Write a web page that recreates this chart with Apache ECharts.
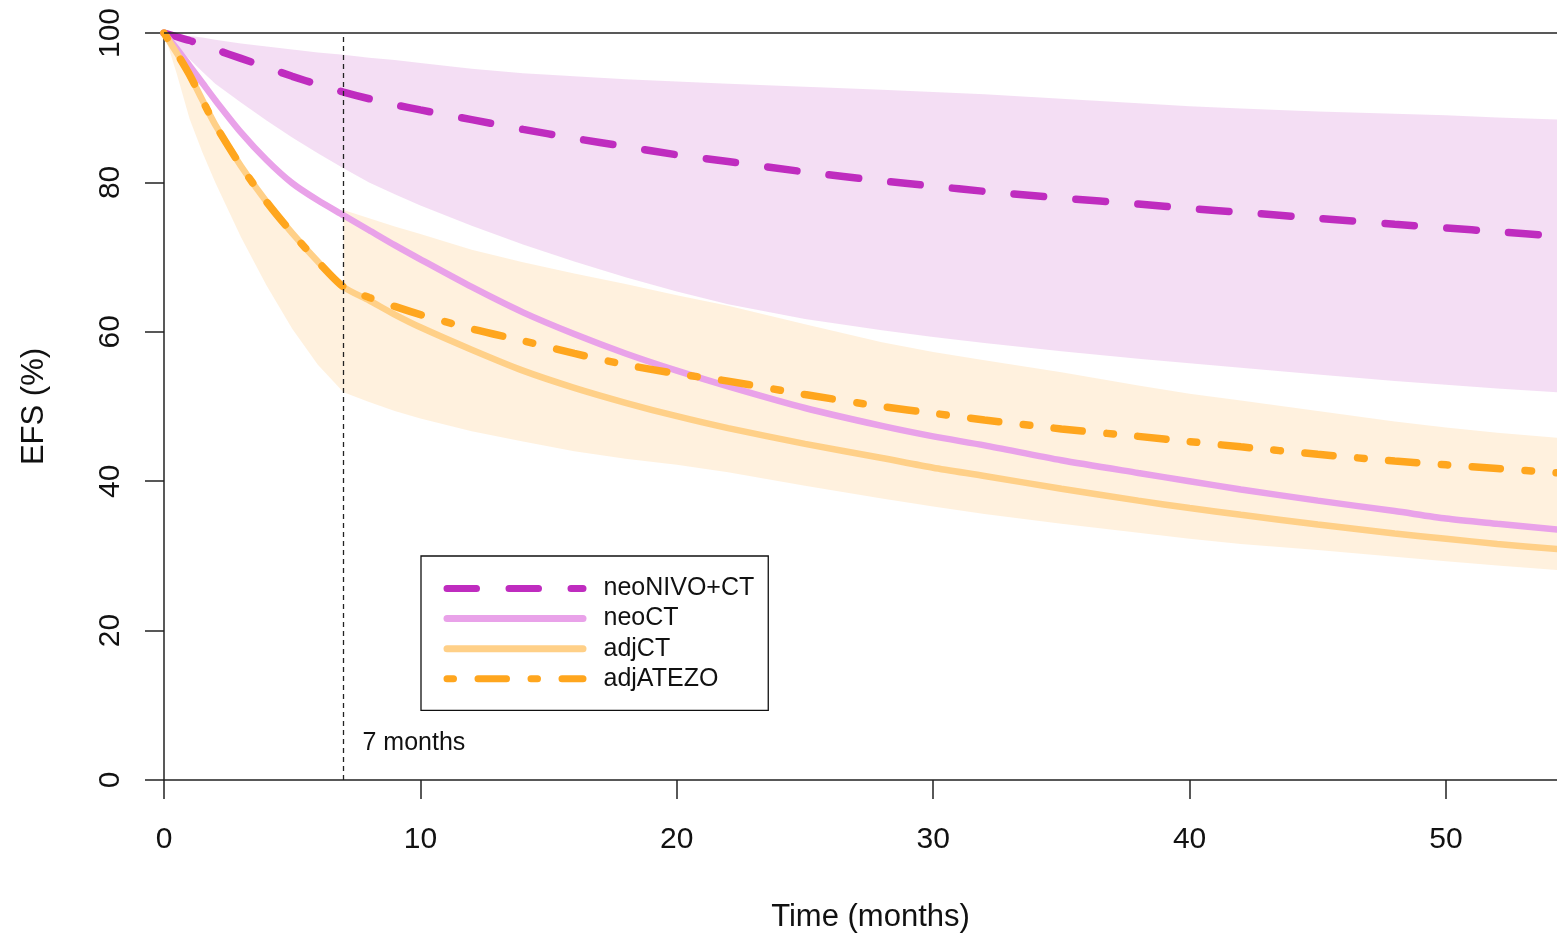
<!DOCTYPE html>
<html>
<head>
<meta charset="utf-8">
<script src="https://cdn.jsdelivr.net/npm/echarts@6/dist/echarts.min.js"></script>
<style>
html,body{margin:0;padding:0;background:#fff;}
#chart{width:1557px;height:933px;}
</style>
</head>
<body>
<div id="chart"></div>
<script>
// ---- data ----
const months        = [0, 0.5, 1, 1.5, 2, 3, 4, 5, 6, 7, 8, 9, 10, 12, 14, 16, 18, 20, 22, 25, 28, 30, 32, 35, 38, 40, 42, 45, 48, 50, 52, 54.4];
const neoNivoCT      = [100, 99.5, 99.0, 98.4, 97.8, 96.6, 95.4, 94.2, 93.1, 92.1, 91.2, 90.4, 89.7, 88.4, 87.1, 85.9, 84.8, 83.7, 82.8, 81.4, 80.2, 79.5, 78.8, 77.9, 77.1, 76.5, 76.0, 75.2, 74.4, 73.9, 73.4, 72.8];
const neoNivoCTUpper = [100, 99.8, 99.6, 99.4, 99.1, 98.6, 98.2, 97.8, 97.4, 97.1, 96.7, 96.4, 96.0, 95.2, 94.6, 94.2, 93.8, 93.5, 93.2, 92.8, 92.4, 92.1, 91.8, 91.2, 90.6, 90.2, 89.9, 89.5, 89.2, 89.0, 88.7, 88.4];
const neoNivoCTLower = [100, 98.3, 96.5, 94.8, 93.2, 90.7, 88.3, 86.0, 83.9, 81.9, 80.0, 78.4, 76.9, 74.2, 71.7, 69.4, 67.3, 65.4, 63.7, 61.7, 60.2, 59.3, 58.5, 57.4, 56.4, 55.8, 55.2, 54.3, 53.4, 52.9, 52.4, 51.9];
const neoCT          = [100, 97.9, 95.6, 93.3, 91.0, 86.7, 83.0, 79.9, 77.6, 75.6, 73.6, 71.6, 69.7, 66.0, 62.6, 59.7, 57.1, 54.8, 52.7, 49.8, 47.4, 46.0, 44.8, 42.8, 41.1, 40.0, 38.9, 37.4, 36.0, 35.0, 34.3, 33.5];
const adjCT          = [100, 97.3, 94.4, 91.0, 87.7, 82.2, 77.4, 73.2, 69.4, 66.0, 64.2, 62.3, 60.6, 57.6, 54.8, 52.5, 50.5, 48.7, 47.1, 45.0, 43.1, 41.8, 40.7, 39.0, 37.4, 36.4, 35.5, 34.2, 33.0, 32.3, 31.6, 30.9];
const adjATEZO       = [100, 97.3, 94.4, 91.0, 87.7, 82.2, 77.4, 73.2, 69.4, 66.0, 64.6, 63.4, 62.3, 60.4, 58.8, 57.1, 55.6, 54.4, 53.4, 51.6, 50.0, 49.1, 48.2, 47.0, 46.0, 45.3, 44.6, 43.6, 42.7, 42.2, 41.7, 41.1];
// adjuvant band: upper edge follows adjCT until 7 months, then its own upper limit
const adjBandUpper   = [null, null, null, null, null, null, null, null, null, 76.3, 75.2, 74.1, 73.1, 71.0, 69.3, 67.8, 66.4, 64.9, 63.5, 61.0, 58.6, 57.3, 56.2, 54.6, 52.8, 51.7, 50.8, 49.4, 48.0, 47.2, 46.5, 45.8];
const adjBandLower   = [100, 94.5, 88.5, 84.0, 80.0, 72.7, 66.2, 60.4, 55.6, 51.9, 50.6, 49.4, 48.4, 46.7, 45.3, 44.0, 43.0, 42.2, 41.2, 39.4, 37.7, 36.6, 35.6, 34.3, 33.1, 32.3, 31.6, 30.8, 29.9, 29.3, 28.7, 28.1];
const landmarkMonth  = 7;
const landmarkLabel  = '7 months';
const xTicks = [0, 10, 20, 30, 40, 50];
const yTicks = [0, 20, 40, 60, 80, 100];
const seriesNames = ['neoNIVO+CT', 'neoCT', 'adjCT', 'adjATEZO'];

// ---- build ----
const pair = (ys) => months.map((m, i) => [m, ys[i]]);

const purpleUpperPts = pair(neoNivoCTUpper);
const purpleLowerPts = pair(neoNivoCTLower);
const orangeUpperPts = [];
months.forEach((m, i) => { if (m <= landmarkMonth) orangeUpperPts.push([m, adjCT[i]]); });
months.forEach((m, i) => { if (adjBandUpper[i] !== null) orangeUpperPts.push([m, adjBandUpper[i]]); });
const orangeLowerPts = pair(adjBandLower);

function band(upper, lower, fill) {
  return {
    type: 'custom',
    silent: true,
    clip: true,
    data: [[0, 100]],
    renderItem: function (params, api) {
      const pts = upper.concat(lower.slice().reverse()).map(p => api.coord(p));
      return { type: 'polygon', shape: { points: pts }, style: { fill: fill } };
    }
  };
}

const FONT = 'Liberation Sans, Arial, sans-serif';
const chart = echarts.init(document.getElementById('chart'), null, { renderer: 'canvas', width: 1557, height: 933 });

chart.setOption({
  animation: false,
  backgroundColor: '#ffffff',
  grid: { left: 164, top: 33, width: 1393, height: 747, containLabel: false, outerBoundsMode: 'none' },
  xAxis: {
    type: 'value', min: 0, max: 54.33, interval: 10,
    name: 'Time (months)', nameLocation: 'middle', nameGap: 122,
    nameTextStyle: { fontSize: 31, fontFamily: FONT, color: '#111', padding: [0, 0, 0, 20] },
    axisLine: { show: true, lineStyle: { color: '#222', width: 1.5 } },
    axisTick: { show: true, length: 19, customValues: xTicks, lineStyle: { color: '#222', width: 1.5 } },
    axisLabel: { fontSize: 30, fontFamily: FONT, color: '#111', margin: 45, customValues: xTicks,
      formatter: v => xTicks.indexOf(v) >= 0 ? String(v) : '' },
    splitLine: { show: false }
  },
  yAxis: {
    type: 'value', min: 0, max: 100, interval: 20,
    name: 'EFS (%)', nameLocation: 'middle', nameGap: 114, nameRotate: 90,
    nameTextStyle: { fontSize: 31, fontFamily: FONT, color: '#111' },
    axisLine: { show: true, lineStyle: { color: '#222', width: 1.5 } },
    axisTick: { show: true, length: 19, lineStyle: { color: '#222', width: 1.5 } },
    axisLabel: { fontSize: 30, fontFamily: FONT, color: '#111', rotate: 90, margin: 38,
      formatter: v => yTicks.indexOf(v) >= 0 ? String(v) : '' },
    splitLine: { show: false }
  },
  legend: {
    orient: 'vertical', left: 421, top: 556,
    padding: [20, 14, 19, 22.5],
    itemWidth: 136, itemHeight: 22, itemGap: 5.1,
    borderColor: '#111', borderWidth: 1.3,
    itemStyle: { color: 'rgba(0,0,0,0)', borderColor: 'rgba(0,0,0,0)', borderWidth: 0, opacity: 0 },
    lineStyle: { width: 7, cap: 'round' },
    textStyle: { fontSize: 25, lineHeight: 22, fontFamily: FONT, color: '#111', padding: [0, 0, 0, 15.5] },
    data: seriesNames
  },
  series: [
    band(purpleUpperPts, purpleLowerPts, 'rgba(200,90,200,0.2)'),
    band(orangeUpperPts, orangeLowerPts, 'rgba(255,185,90,0.2)'),
    {
      name: seriesNames[0], type: 'line', data: pair(neoNivoCT), symbol: 'none', smooth: 0.25,
      lineStyle: { color: '#bf2cbf', width: 7.5, type: [29.5, 32.5], cap: 'round' },
      itemStyle: { color: '#bf2cbf' }
    },
    {
      name: seriesNames[1], type: 'line', data: pair(neoCT), symbol: 'none', smooth: 0.25,
      lineStyle: { color: '#e9a2e9', width: 6.5, cap: 'round' },
      itemStyle: { color: '#e9a2e9' }
    },
    {
      name: seriesNames[2], type: 'line', data: pair(adjCT), symbol: 'none', smooth: 0.25,
      lineStyle: { color: '#ffd088', width: 6.5, cap: 'round' },
      itemStyle: { color: '#ffd088' }
    },
    {
      name: seriesNames[3], type: 'line', data: pair(adjATEZO), symbol: 'none', smooth: 0.25,
      lineStyle: { color: '#ffa61e', width: 7.5, type: [6.5, 24.5, 28.5, 24.5], cap: 'round' },
      itemStyle: { color: '#ffa61e' },
      markLine: {
        silent: true, symbol: 'none', animation: false,
        label: { show: false },
        data: [
          { yAxis: 100, lineStyle: { color: '#222', width: 1.5, type: 'solid' } },
          { xAxis: landmarkMonth, lineStyle: { color: '#222', width: 1.3, type: [5, 4] } }
        ]
      },
      markPoint: {
        silent: true, symbol: 'circle', symbolSize: 0,
        data: [{ coord: [landmarkMonth, 4.9] }],
        label: { show: true, position: 'right', distance: 19, formatter: landmarkLabel,
          fontSize: 25, fontFamily: FONT, color: '#111' }
      }
    }
  ]
});
</script>
</body>
</html>
